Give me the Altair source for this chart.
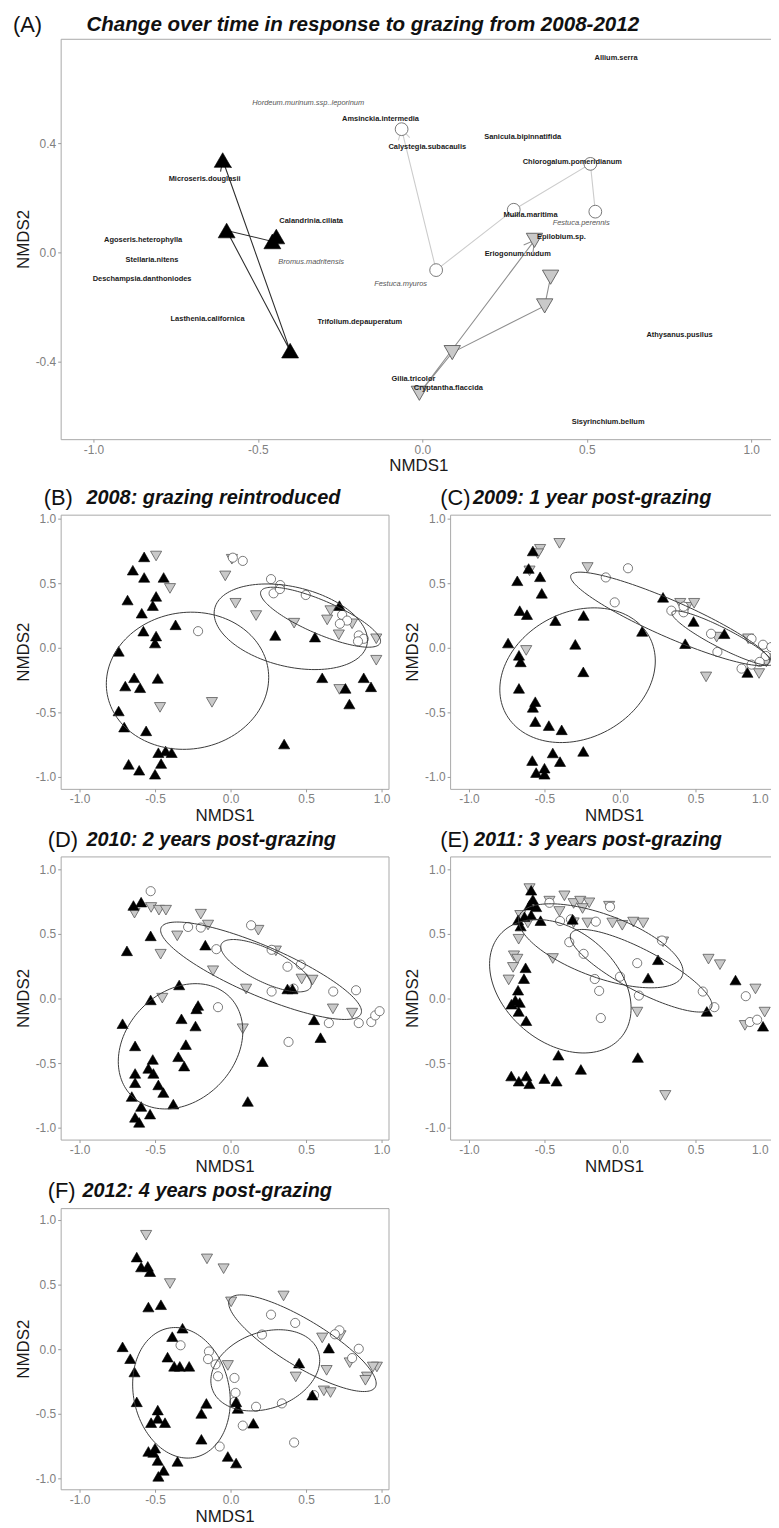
import altair as alt
import pandas as pd
import numpy as np

FONT = "Liberation Sans"

# ---------------- Panel A : group trajectories (ordered path, arrow at the end) ----------------
A_UP = [(-0.444, 0.058), (-0.456, 0.040), (-0.595, 0.080), (-0.402, -0.360), (-0.607, 0.338)]
A_DOWN = [(0.390, -0.091), (0.372, -0.196), (0.091, -0.367), (-0.009, -0.516), (0.341, 0.044)]
A_CIRC = [(0.526, 0.149), (0.511, 0.324), (0.278, 0.156), (0.042, -0.065), (-0.063, 0.451)]

SP_BOLD = ["Amsinckia.intermedia", "Calystegia.subacaulis", "Sanicula.bipinnatifida", "Allium.serra",
           "Chlorogalum.pomeridianum", "Muilla.maritima", "Microseris.douglasii", "Calandrinia.ciliata",
           "Agoseris.heterophylla", "Stellaria.nitens", "Deschampsia.danthoniodes", "Lasthenia.californica",
           "Trifolium.depauperatum", "Epilobium.sp.", "Eriogonum.nudum", "Athysanus.pusilus",
           "Gilia.tricolor", "Cryptantha.flaccida", "Sisyrinchium.bellum"]
SP_BOLD_X = [-0.127, 0.015, 0.305, 0.589, 0.456, 0.329, -0.662, -0.338, -0.849, -0.822, -0.852, -0.653,
             -0.190, 0.423, 0.290, 0.782, -0.027, 0.079, 0.565]
SP_BOLD_Y = [0.487, 0.385, 0.422, 0.713, 0.331, 0.135, 0.269, 0.113, 0.047, -0.029, -0.098, -0.244,
             -0.255, 0.055, -0.007, -0.302, -0.465, -0.498, -0.622]
SP_ITAL = ["Hordeum.murinum.ssp..leporinum", "Festuca.perennis", "Bromus.madritensis", "Festuca.myuros"]
SP_ITAL_X = [-0.347, 0.483, -0.338, -0.066]
SP_ITAL_Y = [0.545, 0.109, -0.036, -0.116]

# ---------------- Panels B-F : site scores ----------------
B_UP = [(-0.572, 0.703), (-0.647, 0.600), (-0.572, 0.544), (-0.443, 0.544), (-0.682, 0.369), (-0.493, 0.397),
        (-0.515, 0.326), (-0.588, 0.267), (-0.364, 0.177), (-0.577, 0.128), (-0.493, 0.090), (-0.500, 0.036),
        (-0.741, -0.028), (-0.638, -0.233), (-0.697, -0.297), (-0.599, -0.310), (-0.482, -0.238),
        (-0.741, -0.490), (-0.704, -0.615), (-0.559, -0.644), (0.355, -0.746), (0.296, 0.095), (0.559, 0.082),
        (0.721, 0.326), (0.607, -0.233), (0.761, -0.315), (0.882, -0.233), (0.930, -0.303), (0.787, -0.436),
        (-0.478, -0.813), (-0.430, -0.800), (-0.390, -0.813), (-0.675, -0.903), (-0.605, -0.949),
        (-0.460, -0.897), (-0.500, -0.980)]
B_DOWN = [(-0.493, 0.710), (-0.401, 0.459), (0.009, 0.685), (-0.035, 0.556), (0.033, 0.344), (0.169, 0.249),
          (0.421, 0.190), (0.662, 0.287), (0.640, 0.215), (0.717, 0.100), (0.805, 0.185), (0.965, 0.069),
          (0.965, -0.097), (0.721, -0.323), (-0.467, -0.462), (-0.123, -0.423)]
B_CIRC = [(0.015, 0.697), (0.081, 0.672), (0.268, 0.531), (0.329, 0.485), (0.285, 0.421), (0.327, 0.454),
          (0.498, 0.408), (0.739, 0.254), (0.772, 0.210), (0.724, 0.185), (0.849, 0.095), (0.882, 0.069),
          (0.844, 0.049), (-0.215, 0.128)]
# ellipse: centre x, centre y, then two conjugate semi-diameters (ux, uy) and (vx, vy)
B_ELL = [(-0.285, -0.256, 0.537, 0.0, 0.026, 0.531),
         (0.399, 0.162, 0.504, -0.141, -0.061, -0.300),
         (0.596, 0.236, 0.395, -0.200, -0.044, -0.118)]

C_UP = [(-0.577, 0.749), (-0.605, 0.613), (-0.680, 0.518), (-0.529, 0.549), (-0.518, 0.421), (-0.664, 0.287),
        (-0.616, 0.256), (-0.741, 0.036), (-0.669, -0.059), (-0.658, -0.110), (-0.428, 0.210), (-0.241, 0.249),
        (-0.296, 0.026), (-0.243, -0.187), (-0.669, -0.315), (-0.561, -0.418), (-0.577, -0.462),
        (-0.561, -0.572), (-0.471, -0.603), (-0.386, -0.636), (0.147, 0.126), (0.285, 0.390), (0.487, 0.203),
        (0.432, 0.031), (0.691, 0.108), (0.844, -0.192), (-0.243, -0.803), (-0.445, -0.815), (-0.581, -0.874),
        (-0.555, -0.967), (-0.500, -0.980), (-0.500, -0.933), (-0.397, -0.882)]
C_DOWN = [(-0.529, 0.762), (-0.544, 0.728), (-0.401, 0.808), (-0.599, 0.595), (-0.215, 0.621), (-0.621, -0.021),
          (0.399, 0.344), (0.443, 0.313), (0.491, 0.344), (0.640, 0.082), (0.849, 0.069), (0.921, -0.200),
          (0.570, -0.226), (1.013, -0.085), (0.969, -0.110)]
C_CIRC = [(-0.094, 0.544), (0.053, 0.615), (-0.035, 0.351), (0.340, 0.287), (0.421, 0.274), (0.603, 0.108),
          (0.645, -0.033), (0.871, 0.069), (0.947, 0.023), (1.002, 0.005), (0.965, -0.064), (0.805, -0.162),
          (0.871, -0.131), (0.925, -0.110), (0.421, 0.318)]
C_ELL = [(-0.281, -0.213, 0.510, 0.040, 0.070, 0.520),
         (0.333, 0.223, 0.658, -0.338, -0.049, -0.129),
         (0.678, 0.074, 0.333, -0.200, -0.030, -0.068)]

D_UP = [(-0.643, 0.720), (-0.592, 0.746), (-0.529, 0.485), (-0.686, 0.369), (-0.167, 0.413), (-0.340, 0.105),
        (-0.529, -0.011), (-0.715, -0.195), (-0.215, -0.054), (-0.226, -0.080), (-0.325, -0.157),
        (-0.232, -0.213), (-0.632, -0.367), (-0.296, -0.357), (-0.346, -0.451), (-0.515, -0.472), (0.410, 0.074),
        (0.377, 0.074), (0.553, -0.165), (0.596, -0.303), (0.213, -0.489), (-0.632, -0.580), (-0.544, -0.541),
        (-0.511, -0.580), (-0.632, -0.652), (-0.478, -0.669), (-0.445, -0.728), (-0.654, -0.759),
        (-0.379, -0.818), (-0.592, -0.836), (-0.533, -0.895), (-0.632, -0.920), (-0.605, -0.959),
        (0.114, -0.797), (-0.307, -0.523)]
D_DOWN = [(-0.636, 0.661), (-0.526, 0.705), (-0.474, 0.684), (-0.428, 0.684), (-0.197, 0.653), (-0.149, 0.569),
          (-0.353, 0.485), (-0.463, 0.343), (-0.116, 0.215), (0.103, 0.074), (0.184, 0.529), (0.300, 0.369),
          (0.471, 0.151), (0.542, 0.143), (0.678, -0.080), (0.805, -0.113), (-0.452, 0.003), (0.081, -0.234)]
D_CIRC = [(-0.529, 0.831), (-0.281, 0.554), (-0.197, 0.549), (-0.094, 0.382), (0.136, 0.567), (0.272, 0.377),
          (0.377, 0.246), (0.465, 0.262), (0.272, 0.054), (0.417, 0.077), (0.680, 0.054), (0.831, 0.064),
          (-0.083, -0.067), (0.651, -0.190), (0.849, -0.190), (0.932, -0.182), (0.958, -0.131), (0.987, -0.098),
          (0.384, -0.336)]
D_ELL = [(-0.331, -0.370, 0.400, 0.0, 0.100, 0.485),
         (0.202, 0.215, 0.662, -0.333, -0.065, -0.177),
         (0.235, 0.254, 0.296, -0.167, -0.048, -0.115)]

E_UP = [(-0.588, 0.838), (-0.577, 0.767), (-0.599, 0.723), (-0.555, 0.710), (-0.632, 0.633), (-0.675, 0.608),
        (-0.658, 0.561), (-0.526, 0.603), (-0.588, 0.646), (-0.625, 0.238), (-0.636, 0.154), (-0.675, 0.064),
        (-0.693, -0.013), (-0.664, -0.031), (-0.671, -0.100), (-0.621, -0.172), (-0.719, -0.044), (0.252, 0.300),
        (0.186, 0.159), (0.765, 0.143), (0.575, -0.100), (0.947, -0.215), (-0.408, -0.439), (0.118, -0.457),
        (-0.259, -0.549), (-0.314, 0.613), (-0.720, -0.600), (-0.670, -0.640), (-0.620, -0.600),
        (-0.600, -0.660), (-0.500, -0.620), (-0.420, -0.640)]
E_DOWN = [(-0.599, 0.851), (-0.467, 0.754), (-0.368, 0.795), (-0.307, 0.736), (-0.263, 0.754), (-0.204, 0.741),
          (-0.248, 0.697), (-0.072, 0.715), (-0.401, 0.674), (-0.660, 0.644), (-0.610, 0.585), (-0.671, 0.459),
          (-0.215, 0.585), (-0.050, 0.585), (0.015, 0.567), (0.088, 0.592), (0.154, 0.585), (0.285, 0.439),
          (-0.702, 0.331), (-0.680, 0.305), (-0.708, 0.241), (-0.737, 0.144), (-0.445, 0.310), (0.586, 0.305),
          (0.662, 0.262), (0.897, 0.074), (0.958, -0.105), (0.827, -0.208), (0.114, -0.105), (-0.307, 0.587),
          (0.300, -0.750)]
E_CIRC = [(-0.467, 0.741), (-0.397, 0.600), (-0.325, 0.613), (-0.160, 0.595), (-0.336, 0.436), (-0.241, 0.346),
          (-0.066, 0.710), (0.000, 0.169), (-0.167, 0.151), (-0.138, 0.059), (0.114, 0.274), (0.125, 0.023),
          (0.278, 0.449), (0.548, 0.054), (0.625, -0.067), (-0.127, -0.151), (0.833, 0.018), (0.860, -0.182),
          (0.908, -0.164)]
E_ELL = [(-0.395, 0.095, 0.403, -0.395, -0.239, -0.333),
         (-0.127, 0.408, 0.540, -0.231, -0.072, -0.229),
         (0.140, 0.215, 0.465, -0.287, -0.063, -0.141)]

F_UP = [(-0.621, 0.713), (-0.592, 0.636), (-0.548, 0.641), (-0.533, 0.600), (-0.544, 0.326), (-0.461, 0.344),
        (-0.318, 0.162), (-0.386, 0.097), (-0.715, 0.018), (-0.664, -0.074), (-0.636, -0.177), (-0.417, -0.062),
        (-0.373, -0.133), (-0.336, -0.133), (-0.274, -0.133), (-0.621, -0.408), (-0.482, -0.472),
        (-0.526, -0.569), (-0.482, -0.536), (-0.434, -0.569), (-0.160, -0.420), (-0.193, -0.498),
        (-0.193, -0.698), (-0.544, -0.792), (-0.511, -0.800), (-0.482, -0.862), (-0.443, -0.939),
        (-0.478, -0.985), (-0.351, -0.869), (-0.018, -0.831), (0.037, -0.882), (0.037, -0.408), (0.048, -0.459),
        (0.151, -0.574), (0.454, -0.108), (0.651, 0.008), (0.542, -0.356), (-0.500, -0.767)]
F_DOWN = [(-0.559, 0.882), (-0.156, 0.699), (-0.046, 0.623), (-0.401, 0.508), (0.004, 0.366), (0.351, 0.412),
          (0.607, 0.087), (0.728, 0.105), (0.789, -0.105), (-0.018, -0.126), (0.432, -0.215), (0.636, -0.164),
          (0.904, -0.215), (0.893, -0.241), (0.969, -0.138), (0.943, -0.138), (0.618, -0.323), (0.662, -0.336)]
F_CIRC = [(0.268, 0.267), (0.428, 0.203), (0.721, 0.146), (0.691, 0.115), (0.849, 0.003), (0.805, -0.069),
          (0.208, 0.113), (-0.331, 0.030), (-0.143, -0.018), (-0.149, -0.077), (-0.099, -0.118), (-0.083, -0.210),
          (0.026, -0.223), (0.033, -0.338), (0.169, -0.446), (0.340, -0.420), (0.081, -0.592), (-0.072, -0.754),
          (0.421, -0.723), (0.553, -0.356), (0.026, -0.408)]
F_ELL = [(-0.325, -0.338, 0.088, -0.500, 0.311, 0.074),
         (0.476, 0.046, 0.482, -0.341, -0.079, -0.154),
         (0.230, -0.164, 0.350, 0.149, 0.086, -0.277)]

TICKS_XY = [-1.0, -0.5, 0.0, 0.5, 1.0]
A_TICKS_Y = [-0.4, 0.0, 0.4]
LABEL_EXPR = "replace(format(datum.value, '.1f'), '\u2212', '-')"

BLACK = "#000000"
GREY_FILL = "#c9c9c9"
GREY_EDGE = "#5a5a5a"
CIRC_EDGE = "#5a5a5a"


def pts(lst):
    return pd.DataFrame(lst, columns=["x", "y"])


def enc(xdom, ydom, xticks, yticks, flush_last=False):
    xaxis_kw = dict(values=xticks, labelExpr=LABEL_EXPR, title="NMDS1")
    if flush_last:
        # the right-hand panels reach the page edge: keep the last label inside it
        xaxis_kw["labelAlign"] = {"condition": {"test": "datum.value > 0.99", "value": "right"},
                                  "value": "center"}
        xaxis_kw["labelOffset"] = {"condition": {"test": "datum.value > 0.99", "value": -3},
                                   "value": 0}
    return dict(
        x=alt.X("x:Q", scale=alt.Scale(domain=xdom, nice=False, zero=False), axis=alt.Axis(**xaxis_kw)),
        y=alt.Y("y:Q", scale=alt.Scale(domain=ydom, nice=False, zero=False),
                axis=alt.Axis(values=yticks, labelExpr=LABEL_EXPR, title="NMDS2")),
    )


def label_layers(tag, title, tag_dx, title_dx, dy, tag_size, title_size):
    t1 = alt.Chart(pd.DataFrame({"t": [tag]})).mark_text(
        align="left", baseline="middle", font=FONT, fontSize=tag_size, color="#111111"
    ).encode(x=alt.value(tag_dx), y=alt.value(dy), text="t:N")
    t2 = alt.Chart(pd.DataFrame({"t": [title]})).mark_text(
        align="left", baseline="middle", font=FONT, fontSize=title_size, fontStyle="italic",
        fontWeight="bold", color="#111111"
    ).encode(x=alt.value(title_dx), y=alt.value(dy), text="t:N")
    return [t1, t2]


def ellipse_df(params, n=140):
    t = np.linspace(0, 2 * np.pi, n)
    rows = []
    for k, (cx, cy, ux, uy, vx, vy) in enumerate(params):
        xs = cx + ux * np.cos(t) + vx * np.sin(t)
        ys = cy + uy * np.cos(t) + vy * np.sin(t)
        for i in range(n):
            rows.append({"x": float(xs[i]), "y": float(ys[i]), "e": k, "i": i})
    return pd.DataFrame(rows)


def site_panel(tag, title, up, down, circ, ell, w, h, ydom, tag_dx, title_dx, dy, flush_last=False):
    xdom = [-1.125, 1.046]
    e = enc(xdom, ydom, TICKS_XY, TICKS_XY, flush_last)
    g = alt.Chart(pts(down)).mark_point(
        shape="triangle-down", filled=True, fill=GREY_FILL, stroke=GREY_EDGE, strokeWidth=0.8,
        size=125, opacity=1).encode(**e)
    c = alt.Chart(pts(circ)).mark_point(
        shape="circle", filled=True, fill="white", stroke=CIRC_EDGE, strokeWidth=0.8,
        size=85, opacity=1).encode(**e)
    b = alt.Chart(pts(up)).mark_point(
        shape="triangle-up", filled=True, fill=BLACK, stroke=BLACK, strokeWidth=0.6,
        size=125, opacity=1).encode(**e)
    el = alt.Chart(ellipse_df(ell)).mark_line(color="#3a3a3a", strokeWidth=1, clip=True).encode(
        **e, detail="e:N", order="i:Q")
    layers = [g, c, b, el] + label_layers(tag, title, tag_dx, title_dx, dy, 22, 20)
    return alt.layer(*layers).properties(width=w, height=h)


# ---------------- Panel A ----------------
A_W, A_H = 720, 403
A_XDOM = [-1.0997, 1.0753]
A_YDOM = [-0.684, 0.782]
SX = A_W / (A_XDOM[1] - A_XDOM[0])
SY = A_H / (A_YDOM[1] - A_YDOM[0])


def path_df(lst):
    d = pts(lst)
    d["i"] = range(len(d))
    return d


def arrow_df(lst):
    (x1, y1), (x2, y2) = lst[-2], lst[-1]
    ang = np.degrees(np.arctan2(-(y2 - y1) * SY, (x2 - x1) * SX)) % 360
    return pd.DataFrame({"x": [x2], "y": [y2], "a": [float(ang)]})


eA = enc(A_XDOM, A_YDOM, TICKS_XY, A_TICKS_Y)
ARROW = "M -1 -0.577 L 0 0 L -1 0.577"
A_layers = []
for lst, col in [(A_CIRC, "#cccccc"), (A_DOWN, "#8f8f8f"), (A_UP, "#2e2e2e")]:
    A_layers.append(alt.Chart(path_df(lst)).mark_line(color=col, strokeWidth=1.1).encode(**eA, order="i:Q"))
    A_layers.append(alt.Chart(arrow_df(lst)).mark_point(
        shape=ARROW, filled=False, stroke=col, strokeWidth=1.1, size=420, opacity=1
    ).encode(**eA, angle=alt.Angle("a:Q", scale=None)))
A_layers += [
    alt.Chart(pts(A_DOWN)).mark_point(shape="triangle-down", filled=True, fill=GREY_FILL, stroke=GREY_EDGE,
                                      strokeWidth=0.9, size=270, opacity=1).encode(**eA),
    alt.Chart(pts(A_CIRC)).mark_point(shape="circle", filled=True, fill="white", stroke="#6a6a6a",
                                      strokeWidth=0.9, size=165, opacity=1).encode(**eA),
    alt.Chart(pts(A_UP)).mark_point(shape="triangle-up", filled=True, fill=BLACK, stroke=BLACK,
                                    strokeWidth=0.6, size=290, opacity=1).encode(**eA),
    alt.Chart(pd.DataFrame({"x": SP_BOLD_X, "y": SP_BOLD_Y, "s": SP_BOLD})).mark_text(
        font=FONT, fontSize=7.5, fontWeight="bold", color="#1a1a1a", align="center", baseline="middle"
    ).encode(**eA, text="s:N"),
    alt.Chart(pd.DataFrame({"x": SP_ITAL_X, "y": SP_ITAL_Y, "s": SP_ITAL})).mark_text(
        font=FONT, fontSize=7.5, fontStyle="italic", color="#555555", align="center", baseline="middle"
    ).encode(**eA, text="s:N"),
]
A_layers += label_layers("(A)", "Change over time in response to grazing from 2008-2012", -48, 26, -14, 22, 20.7)
panelA = alt.layer(*A_layers).properties(width=A_W, height=A_H)

# ---------------- Panels B-F ----------------
pB = site_panel("(B)", "2008: grazing reintroduced", B_UP, B_DOWN, B_CIRC, B_ELL, 330, 276,
                [-1.093, 1.030], -17, 26, -17)
pC = site_panel("(C)", "2009: 1 year post-grazing", C_UP, C_DOWN, C_CIRC, C_ELL, 330, 276,
                [-1.093, 1.030], -10, 23, -17, flush_last=True)
pD = site_panel("(D)", "2010: 2 years post-grazing", D_UP, D_DOWN, D_CIRC, D_ELL, 330, 285,
                [-1.092, 1.100], -13, 26, -16)
pE = site_panel("(E)", "2011: 3 years post-grazing", E_UP, E_DOWN, E_CIRC, E_ELL, 330, 285,
                [-1.092, 1.100], -10, 24, -16, flush_last=True)
pF = site_panel("(F)", "2012: 4 years post-grazing", F_UP, F_DOWN, F_CIRC, F_ELL, 330, 283,
                [-1.085, 1.092], -13, 22, -17)

lower = alt.vconcat(alt.hconcat(pB, pC, spacing=12), alt.hconcat(pD, pE, spacing=12), pF, spacing=4)

chart = alt.vconcat(panelA, lower, spacing=11).properties(
    padding={"left": 4, "top": 0, "right": -10, "bottom": 0}
).configure(font=FONT).configure_view(
    stroke="#a8a8a8", strokeWidth=1
).configure_axis(
    grid=False, domain=False, ticks=True, tickColor="#9a9a9a", tickSize=3, tickWidth=1,
    labelColor="#808080", labelFont=FONT, labelFontSize=12, labelPadding=2,
    titleFont=FONT, titleFontSize=17, titleFontWeight="normal", titleColor="#1a1a1a", titlePadding=3
)

chart.save("out.html", embed_options={"renderer": "svg", "actions": False})
